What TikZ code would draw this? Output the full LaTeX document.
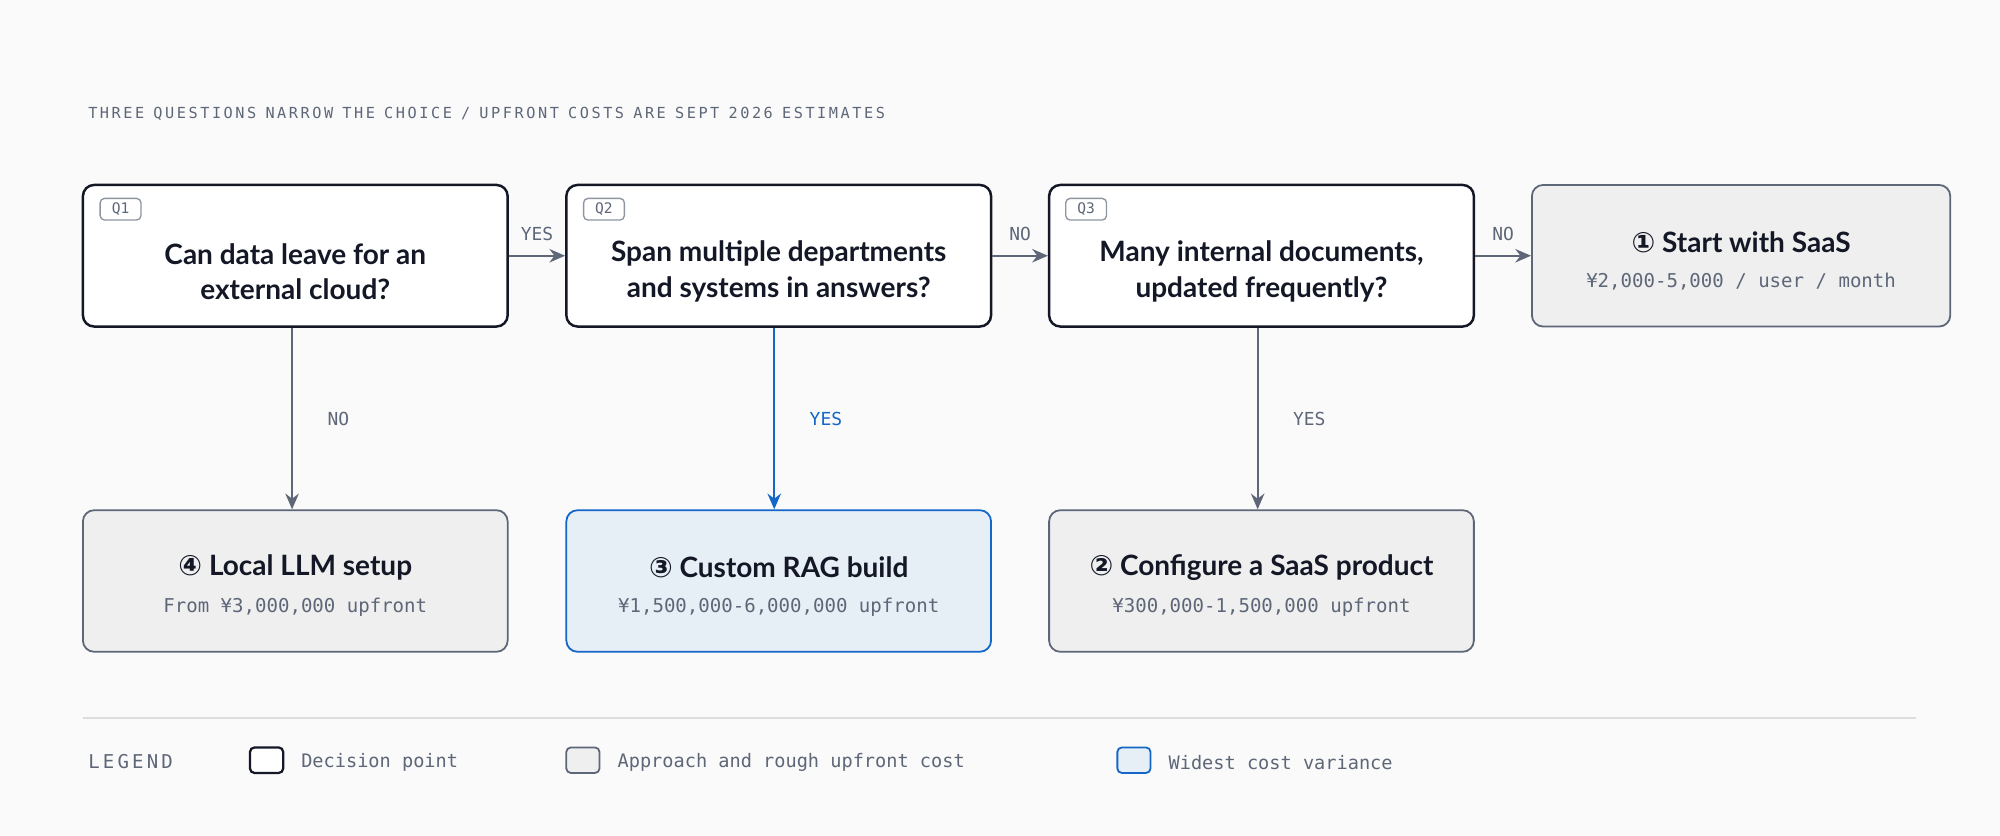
\documentclass[tikz,border=0pt]{standalone}
\usepackage{fontspec}
\setmainfont{Lato}
\setmonofont{DejaVu Sans Mono}
\newfontfamily\circfont{DejaVu Sans}
\usetikzlibrary{arrows.meta}
\definecolor{bgc}{HTML}{FAFAFA}
\definecolor{ink}{HTML}{141826}
\definecolor{slate}{HTML}{5E6778}
\definecolor{grayfill}{HTML}{EFEFEF}
\definecolor{bluec}{HTML}{1466C8}
\definecolor{bluefill}{HTML}{E6EEF6}
\definecolor{rulec}{HTML}{DDDDDD}
\tikzset{
  decision/.style={draw=ink, line width=1.1pt, fill=white, rounded corners=5pt, minimum width=333*0.02cm, minimum height=111*0.02cm},
  question/.style={align=center, font=\bfseries\fontsize{12.5}{16}\selectfont, text=ink},
  approach/.style={draw=slate, line width=0.8pt, fill=grayfill, rounded corners=5pt, minimum width=333*0.02cm, minimum height=111*0.02cm},
  widest/.style={approach, draw=bluec, fill=bluefill},
  tag/.style={draw=slate!70, line width=0.6pt, rounded corners=2pt, fill=white, font=\ttfamily\fontsize{6.5}{7}\selectfont, text=slate, inner sep=2pt, minimum width=32*0.02cm},
  headline/.style={font=\bfseries\fontsize{12.5}{16}\selectfont, text=ink},
  cost/.style={font=\ttfamily\fontsize{8.5}{10}\selectfont, text=slate},
  lbl/.style={font=\ttfamily\fontsize{8}{10}\selectfont, text=slate},
  flow/.style={draw=slate, line width=1pt, -{Stealth[length=7pt,width=6pt]}},
  legbox/.style={rounded corners=2pt, minimum width=26*0.02cm, minimum height=20*0.02cm, inner sep=0pt},
}
\begin{document}
\begin{tikzpicture}[x=0.02cm, y=-0.02cm]
\fill[bgc] (0,0) rectangle (1568,655);
\useasboundingbox (0,0) rectangle (1568,655);
% heading
\node[anchor=west, font=\ttfamily\fontsize{6.8}{8}\selectfont, text=slate] (head) at (63,89)
  {T\,H\,R\,E\,E Q\,U\,E\,S\,T\,I\,O\,N\,S N\,A\,R\,R\,O\,W T\,H\,E C\,H\,O\,I\,C\,E / U\,P\,F\,R\,O\,N\,T C\,O\,S\,T\,S A\,R\,E S\,E\,P\,T 2\,0\,2\,6 E\,S\,T\,I\,M\,A\,T\,E\,S};
% decisions
\node[decision] (q1) at (231.5,200.5) {};
\node[decision] (q2) at (610.5,200.5) {};
\node[decision] (q3) at (989,200.5) {};
\node[question] (q1t) at (231.5,213) {Can data leave for an\\external cloud?};
\node[question] (q2t) at (610.5,213) {Span multiple departments\\and systems in answers?};
\node[question] (q3t) at (989,213) {Many internal documents,\\updated frequently?};
\node[tag, anchor=north west] (t1) at (78,155) {Q1};
\node[tag, anchor=north west] (t2) at (457,155) {Q2};
\node[tag, anchor=north west] (t3) at (835,155) {Q3};
% approaches
\node[approach, minimum width=328*0.02cm] (saas) at (1365,200.5) {};
\node[headline] (saash) at (1365,190) {{\circfont\bfseries ①} Start with SaaS};
\node[cost] (saasc) at (1365,221) {¥2,000-5,000 / user / month};
\node[approach] (local) at (231.5,455.5) {};
\node[headline] (localh) at (231.5,445) {{\circfont\bfseries ④} Local LLM setup};
\node[cost] (localc) at (231.5,476) {From ¥3,000,000 upfront};
\node[widest] (rag) at (610.5,455.5) {};
\node[headline] (ragh) at (610.5,445) {{\circfont\bfseries ③} Custom RAG build};
\node[cost] (ragc) at (610.5,476) {¥1,500,000-6,000,000 upfront};
\node[approach] (conf) at (989,455.5) {};
\node[headline] (confh) at (989,445) {{\circfont\bfseries ②} Configure a SaaS product};
\node[cost] (confc) at (989,476) {¥300,000-1,500,000 upfront};
% connectors
\draw[flow] (q1) -- node[lbl, above=3pt] {YES} (q2);
\draw[flow] (q2) -- node[lbl, above=3pt] {NO} (q3);
\draw[flow] (q3) -- node[lbl, above=3pt] {NO} (saas);
\draw[flow] (q1.south -| 229,0) -- node[lbl, right=12pt] {NO} (local.north -| 229,0);
\draw[flow, draw=bluec] (q2.south -| 607,0) -- node[lbl, text=bluec, right=12pt] {YES} (rag.north -| 607,0);
\draw[flow] (q3.south -| 986,0) -- node[lbl, right=12pt] {YES} (conf.north -| 986,0);
% legend
\draw[rulec, line width=0.8pt] (65,563) -- (1502,563);
\node[anchor=west, font=\ttfamily\fontsize{8.5}{10}\selectfont, text=slate] (leg) at (63,597) {L\,E\,G\,E\,N\,D};
\node[legbox, draw=ink, line width=1pt, fill=white] (l1) at (209,596) {};
\node[lbl, anchor=west, font=\ttfamily\fontsize{8.3}{10}\selectfont] (l1t) at (230,598) {Decision point};
\node[legbox, draw=slate, line width=0.8pt, fill=grayfill] (l2) at (457,596) {};
\node[lbl, anchor=west, font=\ttfamily\fontsize{8.3}{10}\selectfont] (l2t) at (478,598) {Approach and rough upfront cost};
\node[legbox, draw=bluec, line width=0.8pt, fill=bluefill] (l3) at (889,596) {};
\node[lbl, anchor=west, font=\ttfamily\fontsize{8.3}{10}\selectfont] (l3t) at (910,598) {Widest cost variance};
\end{tikzpicture}
\end{document}
